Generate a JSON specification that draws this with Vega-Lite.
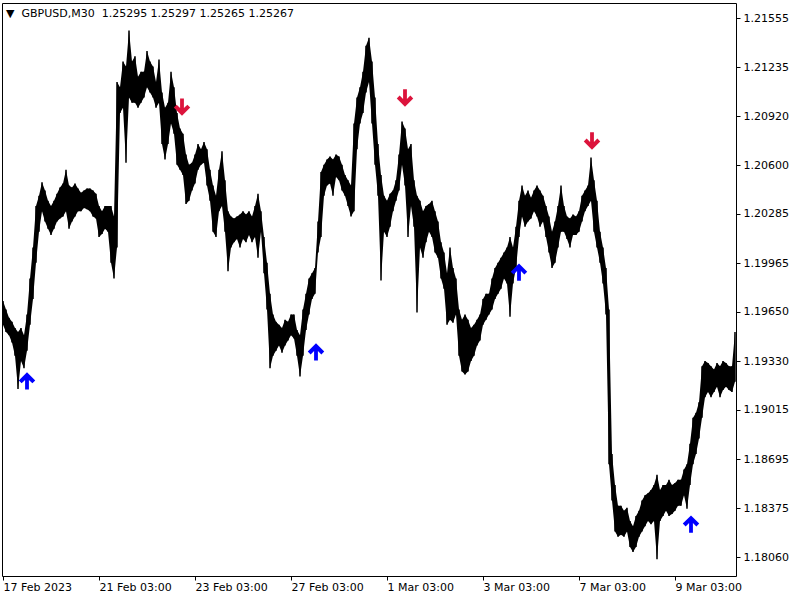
{
  "$schema": "https://vega.github.io/schema/vega-lite/v6.json",
  "width": 734,
  "height": 573,
  "autosize": {"type": "none"},
  "padding": {"left": 2, "top": 3, "right": 64, "bottom": 24},
  "background": "white",
  "config": {"view": {"stroke": "black", "strokeWidth": 1}, "font": "DejaVu Sans"},
  "title": {
    "text": "▼\u00a0\u00a0GBPUSD,M30\u00a0\u00a01.25295 1.25297 1.25265 1.25267",
    "anchor": "start", "frame": "group", "orient": "top", "offset": -22,
    "baseline": "middle", "fontSize": 11, "fontWeight": "normal",
    "font": "DejaVu Sans", "color": "black", "dx": 4
  },
  "datasets": {
    "bars": [
      {"bar":3,"high":1.19720,"low":1.19566},{"bar":6,"high":1.19666,"low":1.19519},{"bar":9,"high":1.19612,"low":1.19499},{"bar":12,"high":1.19586,"low":1.19452},{"bar":15,"high":1.19545,"low":1.19365},{"bar":18,"high":1.19519,"low":1.19150},{"bar":21,"high":1.19545,"low":1.19331},{"bar":24,"high":1.19499,"low":1.19284},{"bar":27,"high":1.19633,"low":1.19398},{"bar":30,"high":1.19867,"low":1.19566},
      {"bar":33,"high":1.20068,"low":1.19733},{"bar":36,"high":1.20336,"low":1.19968},{"bar":39,"high":1.20403,"low":1.20169},{"bar":42,"high":1.20490,"low":1.20303},{"bar":45,"high":1.20437,"low":1.20236},{"bar":48,"high":1.20370,"low":1.20189},{"bar":51,"high":1.20336,"low":1.20148},{"bar":54,"high":1.20370,"low":1.20189},{"bar":57,"high":1.20416,"low":1.20236},{"bar":60,"high":1.20457,"low":1.20256},
      {"bar":63,"high":1.20483,"low":1.20269},{"bar":66,"high":1.20571,"low":1.20303},{"bar":69,"high":1.20470,"low":1.20189},{"bar":72,"high":1.20457,"low":1.20236},{"bar":75,"high":1.20483,"low":1.20269},{"bar":78,"high":1.20450,"low":1.20303},{"bar":81,"high":1.20423,"low":1.20303},{"bar":84,"high":1.20437,"low":1.20323},{"bar":87,"high":1.20450,"low":1.20316},{"bar":90,"high":1.20450,"low":1.20303},
      {"bar":93,"high":1.20437,"low":1.20269},{"bar":96,"high":1.20416,"low":1.20256},{"bar":99,"high":1.20336,"low":1.20135},{"bar":102,"high":1.20303,"low":1.20155},{"bar":105,"high":1.20336,"low":1.20189},{"bar":108,"high":1.20336,"low":1.20169},{"bar":111,"high":1.20336,"low":1.19968},{"bar":114,"high":1.20269,"low":1.19867},{"bar":117,"high":1.21140,"low":1.20068},{"bar":120,"high":1.21107,"low":1.20939},
      {"bar":123,"high":1.21274,"low":1.20973},{"bar":126,"high":1.21241,"low":1.20617},{"bar":129,"high":1.21475,"low":1.21040},{"bar":132,"high":1.21274,"low":1.21006},{"bar":135,"high":1.21308,"low":1.21006},{"bar":138,"high":1.21174,"low":1.20973},{"bar":141,"high":1.21207,"low":1.21006},{"bar":144,"high":1.21207,"low":1.21040},{"bar":147,"high":1.21341,"low":1.21107},{"bar":150,"high":1.21274,"low":1.21073},
      {"bar":153,"high":1.21241,"low":1.21040},{"bar":156,"high":1.21140,"low":1.20973},{"bar":159,"high":1.21287,"low":1.21006},{"bar":162,"high":1.21073,"low":1.20738},{"bar":165,"high":1.20973,"low":1.20638},{"bar":168,"high":1.21006,"low":1.20738},{"bar":171,"high":1.21207,"low":1.20872},{"bar":174,"high":1.21107,"low":1.20805},{"bar":177,"high":1.20939,"low":1.20604},{"bar":180,"high":1.20839,"low":1.20571},
      {"bar":183,"high":1.20805,"low":1.20537},{"bar":186,"high":1.20671,"low":1.20349},{"bar":189,"high":1.20604,"low":1.20370},{"bar":192,"high":1.20617,"low":1.20437},{"bar":195,"high":1.20671,"low":1.20483},{"bar":198,"high":1.20738,"low":1.20571},{"bar":201,"high":1.20705,"low":1.20604},{"bar":204,"high":1.20751,"low":1.20617},{"bar":207,"high":1.20705,"low":1.20470},{"bar":210,"high":1.20571,"low":1.20370},
      {"bar":213,"high":1.20470,"low":1.20169},{"bar":216,"high":1.20403,"low":1.20135},{"bar":219,"high":1.20571,"low":1.20303},{"bar":222,"high":1.20691,"low":1.20336},{"bar":225,"high":1.20504,"low":1.20169},{"bar":228,"high":1.20303,"low":1.19914},{"bar":231,"high":1.20269,"low":1.20068},{"bar":234,"high":1.20256,"low":1.20102},{"bar":237,"high":1.20269,"low":1.20122},{"bar":240,"high":1.20282,"low":1.20068},
      {"bar":243,"high":1.20303,"low":1.20122},{"bar":246,"high":1.20282,"low":1.20102},{"bar":249,"high":1.20303,"low":1.20148},{"bar":252,"high":1.20269,"low":1.20102},{"bar":255,"high":1.20336,"low":1.20135},{"bar":258,"high":1.20416,"low":1.20001},{"bar":261,"high":1.20303,"low":1.20169},{"bar":264,"high":1.20135,"low":1.19901},{"bar":267,"high":1.19968,"low":1.19666},{"bar":270,"high":1.19767,"low":1.19284},
      {"bar":273,"high":1.19633,"low":1.19365},{"bar":276,"high":1.19586,"low":1.19398},{"bar":279,"high":1.19566,"low":1.19432},{"bar":282,"high":1.19545,"low":1.19385},{"bar":285,"high":1.19599,"low":1.19432},{"bar":288,"high":1.19586,"low":1.19465},{"bar":291,"high":1.19633,"low":1.19499},{"bar":294,"high":1.19633,"low":1.19478},{"bar":297,"high":1.19532,"low":1.19365},{"bar":300,"high":1.19499,"low":1.19231},
      {"bar":303,"high":1.19666,"low":1.19365},{"bar":306,"high":1.19767,"low":1.19532},{"bar":309,"high":1.19867,"low":1.19633},{"bar":312,"high":1.19901,"low":1.19733},{"bar":315,"high":1.19934,"low":1.19767},{"bar":318,"high":1.20236,"low":1.20035},{"bar":321,"high":1.20557,"low":1.20135},{"bar":324,"high":1.20604,"low":1.20403},{"bar":327,"high":1.20638,"low":1.20470},{"bar":330,"high":1.20658,"low":1.20483},
      {"bar":333,"high":1.20638,"low":1.20403},{"bar":336,"high":1.20671,"low":1.20524},{"bar":339,"high":1.20658,"low":1.20504},{"bar":342,"high":1.20604,"low":1.20437},{"bar":345,"high":1.20537,"low":1.20403},{"bar":348,"high":1.20504,"low":1.20336},{"bar":351,"high":1.20470,"low":1.20269},{"bar":354,"high":1.20872,"low":1.20303},{"bar":357,"high":1.21040,"low":1.20705},{"bar":360,"high":1.21107,"low":1.20872},
      {"bar":363,"high":1.21207,"low":1.20939},{"bar":366,"high":1.21375,"low":1.21073},{"bar":369,"high":1.21428,"low":1.21140},{"bar":372,"high":1.21274,"low":1.20872},{"bar":375,"high":1.21040,"low":1.20604},{"bar":378,"high":1.20738,"low":1.20403},{"bar":381,"high":1.20537,"low":1.19854},{"bar":384,"high":1.20403,"low":1.20169},{"bar":387,"high":1.20370,"low":1.20135},{"bar":390,"high":1.20416,"low":1.20202},
      {"bar":393,"high":1.20437,"low":1.20303},{"bar":396,"high":1.20504,"low":1.20370},{"bar":399,"high":1.20671,"low":1.20437},{"bar":402,"high":1.20885,"low":1.20604},{"bar":405,"high":1.20839,"low":1.20470},{"bar":408,"high":1.20705,"low":1.20135},{"bar":411,"high":1.20738,"low":1.20336},{"bar":414,"high":1.20504,"low":1.20202},{"bar":417,"high":1.20403,"low":1.19646},{"bar":420,"high":1.20370,"low":1.20068},
      {"bar":423,"high":1.20303,"low":1.20001},{"bar":426,"high":1.20336,"low":1.20102},{"bar":429,"high":1.20349,"low":1.20169},{"bar":432,"high":1.20370,"low":1.20135},{"bar":435,"high":1.20303,"low":1.20035},{"bar":438,"high":1.20236,"low":1.20001},{"bar":441,"high":1.20102,"low":1.19867},{"bar":444,"high":1.20035,"low":1.19800},{"bar":447,"high":1.19901,"low":1.19566},{"bar":450,"high":1.20068,"low":1.19599},
      {"bar":453,"high":1.19934,"low":1.19579},{"bar":456,"high":1.19867,"low":1.19633},{"bar":459,"high":1.19666,"low":1.19365},{"bar":462,"high":1.19599,"low":1.19264},{"bar":465,"high":1.19633,"low":1.19244},{"bar":468,"high":1.19599,"low":1.19264},{"bar":471,"high":1.19545,"low":1.19331},{"bar":474,"high":1.19566,"low":1.19365},{"bar":477,"high":1.19599,"low":1.19432},{"bar":480,"high":1.19633,"low":1.19465},
      {"bar":483,"high":1.19733,"low":1.19566},{"bar":486,"high":1.19767,"low":1.19599},{"bar":489,"high":1.19767,"low":1.19633},{"bar":492,"high":1.19867,"low":1.19666},{"bar":495,"high":1.19934,"low":1.19733},{"bar":498,"high":1.19968,"low":1.19767},{"bar":501,"high":1.20001,"low":1.19800},{"bar":504,"high":1.20035,"low":1.19867},{"bar":507,"high":1.20068,"low":1.19834},{"bar":510,"high":1.20135,"low":1.19619},
      {"bar":513,"high":1.20068,"low":1.19834},{"bar":516,"high":1.20202,"low":1.19934},{"bar":519,"high":1.20370,"low":1.20135},{"bar":522,"high":1.20470,"low":1.20269},{"bar":525,"high":1.20403,"low":1.20202},{"bar":528,"high":1.20437,"low":1.20236},{"bar":531,"high":1.20390,"low":1.20256},{"bar":534,"high":1.20437,"low":1.20303},{"bar":537,"high":1.20470,"low":1.20269},{"bar":540,"high":1.20437,"low":1.20202},
      {"bar":543,"high":1.20403,"low":1.20236},{"bar":546,"high":1.20336,"low":1.20135},{"bar":549,"high":1.20269,"low":1.20035},{"bar":552,"high":1.20169,"low":1.19934},{"bar":555,"high":1.20236,"low":1.19968},{"bar":558,"high":1.20336,"low":1.20068},{"bar":561,"high":1.20470,"low":1.20169},{"bar":564,"high":1.20336,"low":1.20169},{"bar":567,"high":1.20269,"low":1.20122},{"bar":570,"high":1.20256,"low":1.20068},
      {"bar":573,"high":1.20282,"low":1.20148},{"bar":576,"high":1.20269,"low":1.20148},{"bar":579,"high":1.20303,"low":1.20169},{"bar":582,"high":1.20403,"low":1.20236},{"bar":585,"high":1.20437,"low":1.20303},{"bar":588,"high":1.20470,"low":1.20336},{"bar":591,"high":1.20651,"low":1.20370},{"bar":594,"high":1.20504,"low":1.20169},{"bar":597,"high":1.20370,"low":1.20068},{"bar":600,"high":1.20169,"low":1.19968},
      {"bar":603,"high":1.20068,"low":1.19834},{"bar":606,"high":1.19934,"low":1.19633},{"bar":609,"high":1.19666,"low":1.18661},{"bar":612,"high":1.18728,"low":1.18427},{"bar":615,"high":1.18527,"low":1.18226},{"bar":618,"high":1.18393,"low":1.18192},{"bar":621,"high":1.18393,"low":1.18205},{"bar":624,"high":1.18360,"low":1.18192},{"bar":627,"high":1.18380,"low":1.18226},{"bar":630,"high":1.18293,"low":1.18125},
      {"bar":633,"high":1.18259,"low":1.18092},{"bar":636,"high":1.18326,"low":1.18125},{"bar":639,"high":1.18360,"low":1.18192},{"bar":642,"high":1.18427,"low":1.18226},{"bar":645,"high":1.18460,"low":1.18259},{"bar":648,"high":1.18473,"low":1.18293},{"bar":651,"high":1.18494,"low":1.18272},{"bar":654,"high":1.18527,"low":1.18293},{"bar":657,"high":1.18594,"low":1.18045},{"bar":660,"high":1.18494,"low":1.18293},
      {"bar":663,"high":1.18527,"low":1.18326},{"bar":666,"high":1.18527,"low":1.18360},{"bar":669,"high":1.18561,"low":1.18326},{"bar":672,"high":1.18527,"low":1.18339},{"bar":675,"high":1.18540,"low":1.18360},{"bar":678,"high":1.18561,"low":1.18393},{"bar":681,"high":1.18561,"low":1.18393},{"bar":684,"high":1.18628,"low":1.18460},{"bar":687,"high":1.18661,"low":1.18373},{"bar":690,"high":1.18795,"low":1.18527},
      {"bar":693,"high":1.18963,"low":1.18661},{"bar":696,"high":1.18996,"low":1.18728},{"bar":699,"high":1.19063,"low":1.18829},{"bar":702,"high":1.19298,"low":1.18963},{"bar":705,"high":1.19331,"low":1.19097},{"bar":708,"high":1.19318,"low":1.19130},{"bar":711,"high":1.19298,"low":1.19097},{"bar":714,"high":1.19277,"low":1.19130},{"bar":717,"high":1.19318,"low":1.19164},{"bar":720,"high":1.19298,"low":1.19097},
      {"bar":723,"high":1.19331,"low":1.19144},{"bar":726,"high":1.19318,"low":1.19164},{"bar":729,"high":1.19298,"low":1.19144},{"bar":732,"high":1.19298,"low":1.19130},{"bar":735,"high":1.19519,"low":1.19197}
    ],
    "arrows": [
      {"bar":27,"price":1.19202,"dir":"up"},
      {"bar":316,"price":1.19390,"dir":"up"},
      {"bar":519,"price":1.19908,"dir":"up"},
      {"bar":691,"price":1.18274,"dir":"up"},
      {"bar":182,"price":1.20978,"dir":"down"},
      {"bar":405,"price":1.21037,"dir":"down"},
      {"bar":592,"price":1.20758,"dir":"down"}
    ]
  },
  "layer": [
    {
      "data": {"name": "bars"},
      "mark": {"type": "area", "color": "black", "opacity": 1, "interpolate": "linear", "clip": true},
      "encoding": {
        "x": {
          "field": "bar", "type": "quantitative",
          "scale": {"domain": [2, 736], "nice": false, "zero": false},
          "axis": {
            "orient": "bottom", "title": null, "grid": false, "domain": false,
            "values": [3, 99, 195, 291, 387, 483, 579, 675],
            "labelExpr": "datum.value==3?'17 Feb 2023':datum.value==99?'21 Feb 03:00':datum.value==195?'23 Feb 03:00':datum.value==291?'27 Feb 03:00':datum.value==387?'1 Mar 03:00':datum.value==483?'3 Mar 03:00':datum.value==579?'7 Mar 03:00':'9 Mar 03:00'",
            "ticks": true, "tickSize": 4, "tickColor": "black", "tickWidth": 1,
            "labelAlign": "left", "labelBaseline": "top", "labelPadding": 1,
            "labelFontSize": 11, "labelColor": "black", "labelFont": "DejaVu Sans",
            "labelFlush": false, "labelOverlap": false, "labelBound": false
          }
        },
        "y": {
          "field": "high", "type": "quantitative",
          "scale": {"domain": [1.17937, 1.21653], "nice": false, "zero": false},
          "axis": {
            "orient": "right", "title": null, "grid": false, "domain": false,
            "values": [1.1806, 1.18375, 1.18695, 1.19015, 1.1933, 1.1965, 1.19965, 1.20285, 1.206, 1.2092, 1.21235, 1.21555],
            "format": ".5f",
            "ticks": true, "tickSize": 4, "tickColor": "black", "tickWidth": 1,
            "labelPadding": 3, "labelFontSize": 11, "labelColor": "black", "labelFont": "DejaVu Sans",
            "labelFlush": false, "labelOverlap": false, "labelBound": false
          }
        },
        "y2": {"field": "low"}
      }
    },
    {
      "data": {"name": "bars"},
      "mark": {"type": "rule", "color": "black", "strokeWidth": 1.5, "clip": true},
      "encoding": {
        "x": {"field": "bar", "type": "quantitative"},
        "y": {"field": "high", "type": "quantitative"},
        "y2": {"field": "low"}
      }
    },
    {
      "data": {"name": "arrows"},
      "mark": {"type": "point", "filled": true, "size": 300, "opacity": 1, "strokeWidth": 0},
      "encoding": {
        "x": {"field": "bar", "type": "quantitative"},
        "y": {"field": "price", "type": "quantitative"},
        "shape": {
          "field": "dir", "type": "nominal", "legend": null,
          "scale": {"domain": ["up", "down"], "range": [
            "M0,-1L0.95,-0.05L0.62,0.28L0.22,-0.12L0.22,1L-0.22,1L-0.22,-0.12L-0.62,0.28L-0.95,-0.05Z",
            "M0,1L0.95,0.05L0.62,-0.28L0.22,0.12L0.22,-1L-0.22,-1L-0.22,0.12L-0.62,-0.28L-0.95,0.05Z"
          ]}
        },
        "color": {
          "field": "dir", "type": "nominal", "legend": null,
          "scale": {"domain": ["up", "down"], "range": ["#0000FF", "#DC143C"]}
        }
      }
    }
  ]
}
